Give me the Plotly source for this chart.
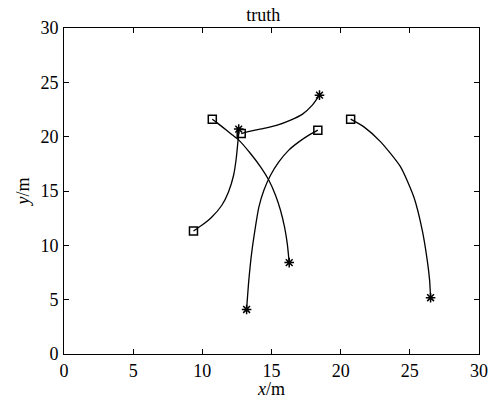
import plotly.graph_objects as go

# Ground-truth trajectories (x, y in metres); each starts at a square and ends at a star
track1_x = [9.36, 9.96, 10.69, 11.41, 11.89, 12.26, 12.45, 12.57, 12.64, 12.63]
track1_y = [11.32, 11.84, 12.61, 13.69, 14.91, 16.45, 17.99, 19.52, 20.40, 20.70]

track2_x = [10.72, 11.08, 12.04, 12.64, 13.48, 14.21, 14.81, 15.29, 15.65, 15.94, 16.14, 16.28]
track2_y = [21.61, 21.27, 20.29, 19.68, 18.45, 17.22, 15.99, 14.61, 13.23, 11.69, 10.16, 8.41]

track3_x = [12.81, 13.49, 14.45, 15.42, 16.38, 17.22, 17.95, 18.47]
track3_y = [20.29, 20.51, 20.76, 21.06, 21.52, 22.05, 22.90, 23.82]

track4_x = [18.35, 17.82, 16.98, 16.25, 15.53, 14.93, 14.45, 14.09, 13.80, 13.56, 13.36, 13.20]
track4_y = [20.60, 20.23, 19.52, 18.76, 17.68, 16.45, 15.07, 13.53, 11.38, 9.24, 6.77, 4.10]

track5_x = [20.72, 21.68, 22.89, 24.33, 25.29, 25.90, 26.26, 26.43, 26.50]
track5_y = [21.61, 20.90, 19.52, 17.22, 14.45, 11.38, 8.62, 6.77, 5.18]

tracks = [(track1_x, track1_y), (track2_x, track2_y), (track3_x, track3_y),
          (track4_x, track4_y), (track5_x, track5_y)]

tick_vals = [0, 5, 10, 15, 20, 25, 30]

fig = go.Figure()
for tx, ty in tracks:
    fig.add_trace(go.Scatter(x=tx, y=ty, mode="lines",
                             line=dict(color="black", width=1.3, shape="spline", smoothing=0.6),
                             showlegend=False, hoverinfo="skip"))
    fig.add_trace(go.Scatter(x=[tx[0]], y=[ty[0]], mode="markers",
                             marker=dict(symbol="square-open", size=8, color="black",
                                         line=dict(width=1.5, color="black")),
                             showlegend=False))
    fig.add_trace(go.Scatter(x=[tx[-1]], y=[ty[-1]], mode="markers",
                             marker=dict(symbol="asterisk-open", size=8, color="black",
                                         line=dict(width=1.5, color="black")),
                             showlegend=False))

font_family = "Liberation Serif, Times New Roman, serif"
axis_common = dict(range=[0, 30], tickvals=tick_vals, ticks="inside", ticklen=5,
                   tickwidth=1, tickcolor="black", showline=True, linecolor="black",
                   linewidth=1, mirror="ticks", showgrid=False, zeroline=False,
                   automargin=False,
                   tickfont=dict(family=font_family, size=18, color="black"))

fig.update_layout(
    width=494, height=399,
    margin=dict(l=64, r=15, t=28, b=45),
    paper_bgcolor="white", plot_bgcolor="white",
    font=dict(family=font_family, color="black"),
    title=dict(text="truth", x=0.533, xanchor="center", y=0.962, yanchor="middle",
               font=dict(family=font_family, size=18, color="black")),
    xaxis=dict(**axis_common, ticklabelstandoff=0,
               title=dict(text="<i>x</i>/m", standoff=2,
                          font=dict(family=font_family, size=18, color="black"))),
    yaxis=dict(**axis_common, ticklabelstandoff=1,
               title=dict(text="<i>y</i>/m", standoff=6,
                          font=dict(family=font_family, size=18, color="black"))),
)

fig.write_html("out.html")
